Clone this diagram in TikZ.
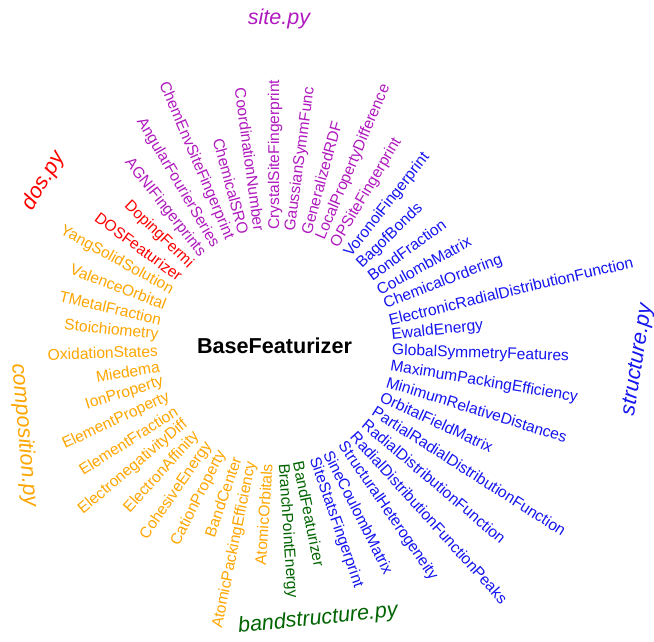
\documentclass[tikz,border=0pt]{standalone}
\usepackage{fontspec}
\setmainfont{Liberation Sans}
\usetikzlibrary{positioning}

\definecolor{siteclr}{RGB}{175,25,190}
\definecolor{structclr}{RGB}{20,20,240}
\definecolor{bandclr}{RGB}{0,100,0}
\definecolor{compclr}{RGB}{255,165,0}
\definecolor{dosclr}{RGB}{255,0,0}

\begin{document}
\begin{tikzpicture}
    [x=1pt, y=1pt,
    featurizer/.style={inner sep=0pt, font=\fontsize{15.6}{18}\selectfont},
    module/.style={inner sep=0pt, font=\fontsize{21.5}{25}\selectfont\itshape},
    base/.style={inner sep=0pt, font=\fontsize{21.6}{25}\selectfont\bfseries}]
  \useasboundingbox (-275,-295) rectangle (379,347);
  \node [base] (base) at (-0.5,1) {BaseFeaturizer};
  % featurizers, clockwise from the top
  \foreach \name/\clr [count=\i from 0] in {
      CrystalSiteFingerprint/siteclr, GaussianSymmFunc/siteclr,
      GeneralizedRDF/siteclr, LocalPropertyDifference/siteclr,
      OPSiteFingerprint/siteclr,
      VoronoiFingerprint/structclr, BagofBonds/structclr,
      BondFraction/structclr, CoulombMatrix/structclr,
      ChemicalOrdering/structclr,
      ElectronicRadialDistributionFunction/structclr,
      EwaldEnergy/structclr, GlobalSymmetryFeatures/structclr,
      MaximumPackingEfficiency/structclr,
      MinimumRelativeDistances/structclr, OrbitalFieldMatrix/structclr,
      PartialRadialDistributionFunction/structclr,
      RadialDistributionFunction/structclr,
      RadialDistributionFunctionPeaks/structclr,
      StructuralHeterogeneity/structclr, SineCoulombMatrix/structclr,
      SiteStatsFingerprint/structclr,
      BandFeaturizer/bandclr, BranchPointEnergy/bandclr,
      AtomicOrbitals/compclr, AtomicPackingEfficiency/compclr,
      BandCenter/compclr, CationProperty/compclr, CohesiveEnergy/compclr,
      ElectronAffinity/compclr, ElectronegativityDiff/compclr,
      ElementFraction/compclr, ElementProperty/compclr,
      IonProperty/compclr, Miedema/compclr, OxidationStates/compclr,
      Stoichiometry/compclr, TMetalFraction/compclr,
      ValenceOrbital/compclr, YangSolidSolution/compclr,
      DOSFeaturizer/dosclr, DopingFermi/dosclr,
      AGNIFingerprints/siteclr, AngularFourierSeries/siteclr,
      ChemEnvSiteFingerprint/siteclr, ChemicalSRO/siteclr,
      CoordinationNumber/siteclr} {
    \pgfmathsetmacro{\ang}{90-\i*(360/47)}
    \ifdim\ang pt>-90pt
      \node [featurizer, text=\clr, rotate=\ang, anchor=west]
        (f\i) at (\ang:117) {\name};
    \else
      \pgfmathsetmacro{\flip}{\ang+180}
      \node [featurizer, text=\clr, rotate=\flip, anchor=east]
        (f\i) at (\ang:117) {\name};
    \fi
  }
  % modules
  \node [module, text=siteclr] (site) at (4,328) {site.py};
  \node [module, text=dosclr, rotate=60] (dos) at (-231,166) {dos.py};
  \node [module, text=compclr, rotate=-85] (comp) at (-251,-88) {composition.py};
  \node [module, text=structclr, rotate=81] (struct) at (363,-13) {structure.py};
  \node [module, text=bandclr, rotate=6] (band) at (43,-272) {bandstructure.py};
\end{tikzpicture}
\end{document}
